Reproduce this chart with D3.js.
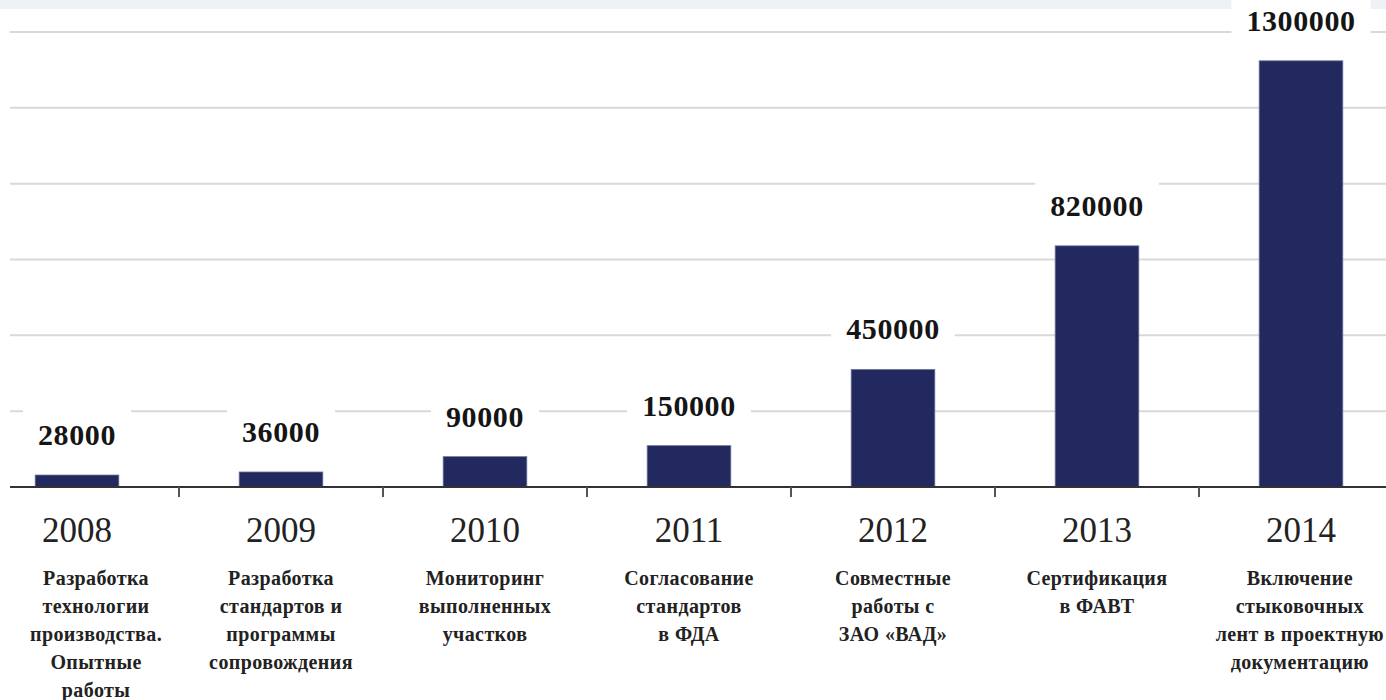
<!DOCTYPE html>
<html>
<head>
<meta charset="utf-8">
<script src="https://cdn.jsdelivr.net/npm/d3@7"></script>
<style>
  body { margin: 0; background: #fff; }
  svg { display: block; }
</style>
</head>
<body>
<svg id="chart" width="1386" height="700"></svg>
<script>
// data
const years = ["2008", "2009", "2010", "2011", "2012", "2013", "2014"];
const values = [28000, 36000, 90000, 150000, 450000, 820000, 1300000];
// bar heights as drawn, read against the gridlines (in gridline steps)
const barLevels = [0.158, 0.198, 0.40, 0.545, 1.55, 3.18, 5.62];
const stages = [
  ["Разработка", "технологии", "производства.", "Опытные", "работы"],
  ["Разработка", "стандартов и", "программы", "сопровождения"],
  ["Мониторинг", "выполненных", "участков"],
  ["Согласование", "стандартов", "в ФДА"],
  ["Совместные", "работы с", "ЗАО «ВАД»"],
  ["Сертификация", "в ФАВТ"],
  ["Включение", "стыковочных", "лент в проектную", "документацию"]
];
const gridSteps = [1, 2, 3, 4, 5, 6];

const W = 1386, H = 700;
const serif = "'Liberation Serif', 'Times New Roman', serif";
const svg = d3.select('#chart');

const data = years.map((y, i) => ({year: y, value: values[i], level: barLevels[i], lines: stages[i]}));

const x = d3.scaleBand()
  .domain(years)
  .range([-25, 1403])
  .paddingInner(0.59)
  .paddingOuter(0.295);

const y = d3.scaleLinear()
  .domain([0, 6])
  .range([487, 32]);

const mid = d => x(d) + x.bandwidth() / 2;

// faded strip at the very top (cut off title)
svg.append("rect").attr("x", 0).attr("y", 0).attr("width", W).attr("height", 9)
  .attr("fill", "#eef1f6");

// gridlines
svg.append("g").selectAll("line")
  .data(gridSteps)
  .join("line")
  .attr("x1", 10).attr("x2", W)
  .attr("y1", d => y(d)).attr("y2", d => y(d))
  .style("stroke", "#d9d9d9")
  .style("stroke-width", 2);

// bars
svg.append("g").selectAll("rect")
  .data(data)
  .join("rect")
  .attr("x", d => x(d.year))
  .attr("width", x.bandwidth())
  .attr("y", d => y(d.level))
  .attr("height", d => y(0) - y(d.level))
  .attr("fill", "#22295e")
  .style("stroke", "#6d7396")
  .style("stroke-width", 0.8);

// value labels with white box behind
const valG = svg.append("g").selectAll("g")
  .data(data)
  .join("g");

valG.append("text")
  .attr("x", d => mid(d.year))
  .attr("y", d => y(d.level) - 30)
  .attr("text-anchor", "middle")
  .style("font-family", serif)
  .style("font-weight", "bold")
  .style("font-size", "30px")
  .style("letter-spacing", "0.6px")
  .style("fill", "#151515")
  .text(d => d.value);

valG.each(function() {
  const g = d3.select(this);
  const bb = g.select("text").node().getBBox();
  g.insert("rect", "text")
    .attr("x", bb.x - 15).attr("y", bb.y - 8)
    .attr("width", bb.width + 30).attr("height", bb.height + 16)
    .attr("fill", "#fff");
});

// x axis line + separator ticks
svg.append("line")
  .attr("x1", 10).attr("x2", W)
  .attr("y1", y(0)).attr("y2", y(0))
  .style("stroke", "#333")
  .style("stroke-width", 2);

svg.append("g").selectAll("line")
  .data(years.slice(1))
  .join("line")
  .attr("x1", d => x(d) - (x.step() - x.bandwidth()) / 2)
  .attr("x2", d => x(d) - (x.step() - x.bandwidth()) / 2)
  .attr("y1", y(0)).attr("y2", y(0) + 10)
  .style("stroke", "#555")
  .style("stroke-width", 2);

// year labels via axis
const xAxis = svg.append("g")
  .attr("transform", `translate(0,${y(0)})`)
  .call(d3.axisBottom(x).tickSize(0));
xAxis.select(".domain").remove();
xAxis.selectAll("text")
  .attr("y", 55)
  .attr("dy", null)
  .style("font-family", serif)
  .style("font-size", "35px")
  .style("fill", "#222");

// stage descriptions
const descG = svg.append("g").selectAll("text")
  .data(data)
  .join("text")
  .attr("y", 585)
  .attr("text-anchor", "middle")
  .style("font-family", serif)
  .style("font-weight", "bold")
  .style("font-size", "20px")
  .style("letter-spacing", "0.4px")
  .style("fill", "#222");

descG.selectAll("tspan")
  .data(d => d.lines)
  .join("tspan")
  .attr("x", 0)
  .attr("dy", (d, i) => i === 0 ? 0 : 28)
  .text(d => d);

// keep each block inside the page edges
descG.each(function(d) {
  const w = this.getBBox().width;
  const cx = Math.max(30 + w / 2, Math.min(1384 - w / 2, mid(d.year)));
  d3.select(this).selectAll("tspan").attr("x", cx);
});
</script>
</body>
</html>
